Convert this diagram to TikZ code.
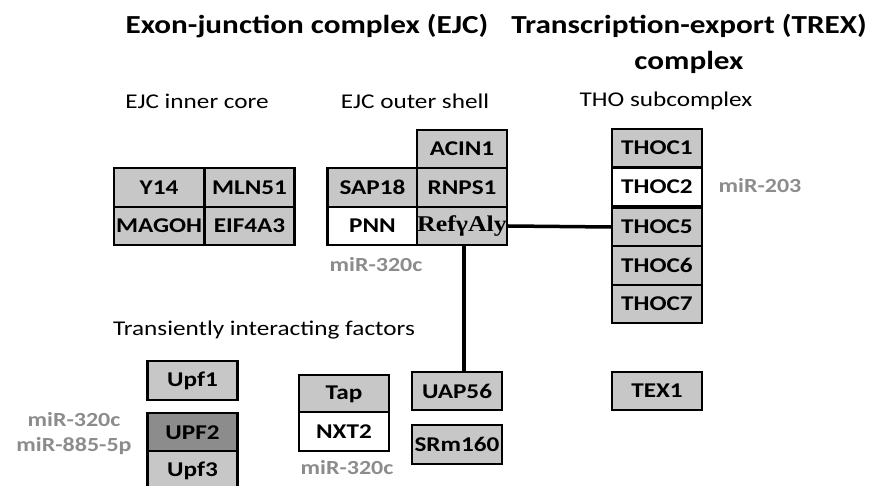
\documentclass[tikz,border=0pt]{standalone}
\usepackage{fontspec}
\setmainfont{Carlito}[FakeStretch=1.2]
\newfontfamily\serifbf{Liberation Serif}[FakeStretch=1.15]
\tikzset{
  prot/.style={draw, line width=2.4pt, fill=black!22, minimum width=90pt, minimum height=38.5pt,
    inner sep=0pt, font=\fontsize{21}{22}\selectfont\bfseries},
  protw/.style={prot, fill=white},
  mirna/.style={text=black!45, font=\fontsize{20}{25}\selectfont\bfseries, align=center},
  head/.style={font=\fontsize{26}{36}\selectfont\bfseries, align=center},
  subhead/.style={font=\fontsize{21}{24}\selectfont}
}
\begin{document}
\begin{tikzpicture}[x=1pt, y=-1pt]
  \useasboundingbox (0,0) rectangle (873,486);
  % Titulos
  \node[head] (ejc) at (307,26) {Exon-junction complex (EJC)};
  \node[head] (trex) at (689,44) {Transcription-export (TREX)\\complex};
  \node[subhead] (inner) at (197,101) {EJC inner core};
  \node[subhead] (outer) at (415,101) {EJC outer shell};
  \node[subhead] (tho) at (666,101) {THO subcomplex};
  \node[subhead] (trans) at (264,330) {Transiently interacting factors};
  % EJC inner core
  \node[prot] (y14) at (159,187.5) {Y14};
  \node[prot] (mln51) at (249.5,187.5) {MLN51};
  \node[prot] (magoh) at (159,226) {MAGOH};
  \node[prot] (eif4a3) at (249.5,226) {EIF4A3};
  % EJC outer shell
  \node[prot] (acin1) at (462,149) {ACIN1};
  \node[prot] (sap18) at (372.5,187.5) {SAP18};
  \node[prot] (rnps1) at (462,187.5) {RNPS1};
  \node[protw] (pnn) at (372.5,226) {PNN};
  \node[prot, font=\fontsize{22.5}{24}\selectfont\serifbf\bfseries] (refaly) at (462,226) {RefγAly};
  \node[mirna] (mir320a) at (376,265) {miR-320c};
  % THO
  \node[prot] (thoc1) at (657,148) {THOC1};
  \node[protw] (thoc2) at (657,187) {THOC2};
  \node[mirna] (mir203) at (760,186) {miR-203};
  \node[prot] (thoc5) at (657,227) {THOC5};
  \node[prot] (thoc6) at (657,265.5) {THOC6};
  \node[prot] (thoc7) at (657,304) {THOC7};
  \node[prot] (tex1) at (657,391) {TEX1};
  % Factores transitorios
  \node[prot] (upf1) at (192.5,380.5) {Upf1};
  \node[prot, fill=black!45] (upf2) at (192.5,432.5) {UPF2};
  \node[prot] (upf3) at (192.5,470.5) {Upf3};
  \node[mirna] (mir320b) at (74,434) {miR-320c\\miR-885-5p};
  \node[prot] (tap) at (344,394) {Tap};
  \node[protw] (nxt2) at (344,431.5) {NXT2};
  \node[mirna] (mir320c) at (347,468) {miR-320c};
  \node[prot] (uap56) at (457,391) {UAP56};
  \node[prot] (srm160) at (457,444.5) {SRm160};
  % Conexiones
  \draw[line width=3.5pt] (refaly.east) -- (thoc5.west);
  \draw[line width=3.5pt] ([xshift=2pt]refaly.south) -- ([xshift=2pt]refaly.south |- uap56.north);
\end{tikzpicture}
\end{document}
